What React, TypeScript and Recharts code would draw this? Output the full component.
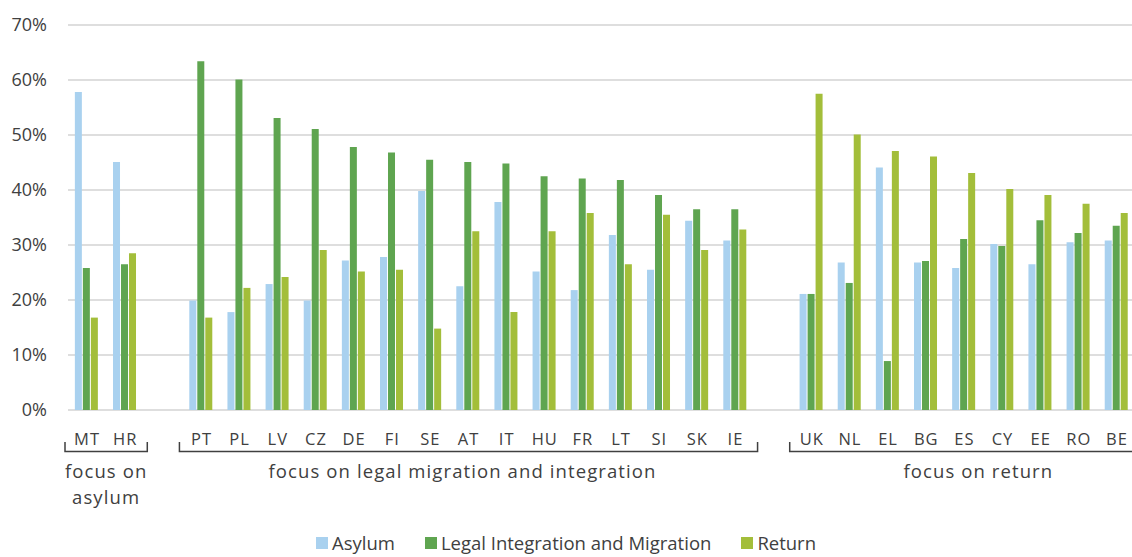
import { Bar, BarChart, CartesianGrid, XAxis, YAxis } from "recharts"

// slots with "" are the empty gaps between the three groups
const countries = ["MT", "HR", "", "PT", "PL", "LV", "CZ", "DE", "FI", "SE", "AT", "IT", "HU", "FR", "LT", "SI", "SK", "IE", "", "UK", "NL", "EL", "BG", "ES", "CY", "EE", "RO", "BE"]
const asylum = [57.8, 45.1, null, 19.9, 17.8, 22.9, 19.9, 27.2, 27.8, 39.8, 22.5, 37.8, 25.2, 21.8, 31.8, 25.5, 34.4, 30.8, null, 21.1, 26.8, 44.1, 26.8, 25.8, 30.2, 26.5, 30.5, 30.8]
const legal = [25.8, 26.5, null, 63.4, 60.1, 53.1, 51.1, 47.8, 46.8, 45.5, 45.1, 44.8, 42.5, 42.1, 41.8, 39.1, 36.5, 36.5, null, 21.1, 23.1, 8.9, 27.1, 31.1, 29.8, 34.5, 32.2, 33.5]
const ret = [16.8, 28.5, null, 16.8, 22.2, 24.2, 29.1, 25.2, 25.5, 14.8, 32.5, 17.8, 32.5, 35.8, 26.5, 35.5, 29.1, 32.8, null, 57.5, 50.1, 47.1, 46.1, 43.1, 40.2, 39.1, 37.5, 35.8]
const yTicks = [0, 10, 20, 30, 40, 50, 60, 70]

const groups = [
  { lines: ["focus on", "asylum"], from: 0, to: 1, dx: 0 },
  { lines: ["focus on legal migration and integration"], from: 3, to: 17, dx: -6 },
  { lines: ["focus on return"], from: 19, to: 27, dx: 14 },
]

const series = [
  { key: "asylum", name: "Asylum", color: "#a9d1ef" },
  { key: "legal", name: "Legal Integration and Migration", color: "#5fa550" },
  { key: "ret", name: "Return", color: "#a3be3a" },
]

const data = countries.map((c, i) => ({ country: c, asylum: asylum[i], legal: legal[i], ret: ret[i] }))

const FONT = "'Open Sans', sans-serif"
const TEXT = "#404040"
const W = 1140
const H = 557
const LEFT = 68
const RIGHT = 4
const band = (W - LEFT - RIGHT) / countries.length

function CountryTick(props: any) {
  const { x, y, payload, index } = props
  const group = groups.find((g) => g.from === index)
  let extra = null
  if (group) {
    const x1 = x - band / 2 - 3
    const x2 = x + (group.to - group.from) * band + band / 2 + 3
    const mid = (x + x + (group.to - group.from) * band) / 2 + group.dx
    extra = (
      <g>
        <path d={`M${x1},${y + 32} V${y + 41.5} H${x2} V${y + 32}`} fill="none" stroke="#404040" strokeWidth={1.5} />
        {group.lines.map((l, k) => (
          <text key={k} x={mid} y={y + 68 + k * 26} textAnchor="middle" fontSize={18.5} letterSpacing={1.1} fill={TEXT} fontFamily={FONT}>
            {l}
          </text>
        ))}
      </g>
    )
  }
  return (
    <g>
      <text x={x} y={y + 35} textAnchor="middle" fontSize={16.5} letterSpacing={1} fill={TEXT} fontFamily={FONT}>
        {payload.value}
      </text>
      {extra}
    </g>
  )
}

export default function App() {
  return (
    <div style={{ position: "absolute", left: 0, top: 0, width: 1132, height: 557, overflow: "hidden", background: "#fff" }}>
      <BarChart width={W} height={H} data={data} margin={{ top: 25, right: RIGHT, bottom: 0, left: 0 }} barCategoryGap="18%" barGap={1}>
        <CartesianGrid vertical={false} stroke="#dedede" strokeWidth={2} />
        <XAxis
          dataKey="country"
          interval={0}
          height={147}
          axisLine={false}
          tickLine={false}
          tickSize={0}
          tickMargin={0}
          tick={<CountryTick />}
        />
        <YAxis
          width={LEFT}
          domain={[0, 70]}
          ticks={yTicks}
          axisLine={false}
          tickLine={false}
          tickSize={0}
          tickMargin={21}
          tickFormatter={(v) => `${v}%`}
          tick={{ fontSize: 18, fill: TEXT, fontFamily: FONT }}
        />
        {series.map((s) => (
          <Bar key={s.key} dataKey={s.key} name={s.name} fill={s.color} isAnimationActive={false} />
        ))}
      </BarChart>
      <div
        style={{
          position: "absolute",
          top: 530,
          left: 0,
          width: 1132,
          height: 25,
          display: "flex",
          justifyContent: "center",
          alignItems: "center",
          fontFamily: FONT,
          fontSize: 18.5,
          lineHeight: "25px",
          color: TEXT,
        }}
      >
        {series.map((s, i) => (
          <div key={s.key} style={{ display: "flex", alignItems: "center", marginLeft: i ? 30 : 0 }}>
            <span style={{ display: "inline-block", width: 12, height: 12, background: s.color, marginRight: 4 }} />
            <span>{s.name}</span>
          </div>
        ))}
      </div>
    </div>
  )
}
